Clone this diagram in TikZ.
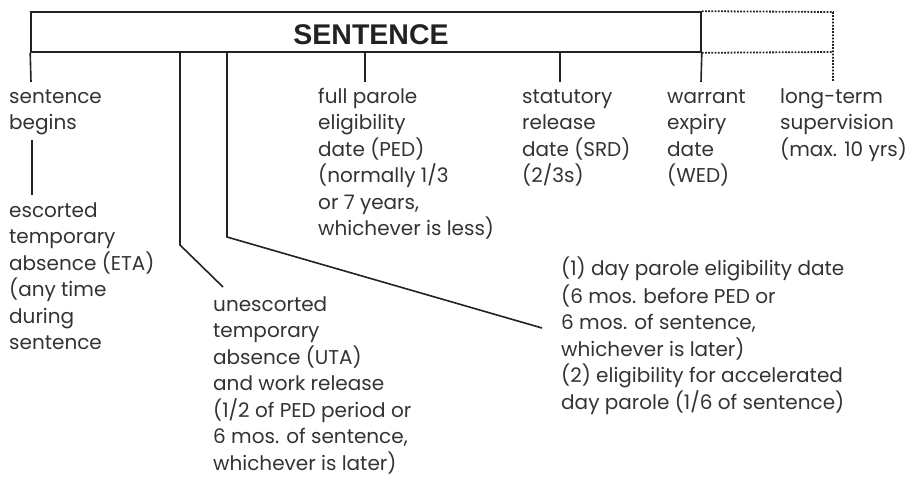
\documentclass[tikz,border=0pt]{standalone}
\usepackage{fontspec}
\setmainfont{Poppins}
\newfontfamily\headfont{Liberation Sans}
\definecolor{txt}{HTML}{333333}
\definecolor{ln}{HTML}{222222}
\tikzset{
  lbl/.style={anchor=north west, inner sep=0pt, align=left, text=txt,
    font=\fontsize{20}{26.5}\selectfont},
  conn/.style={draw=ln, line width=1.6pt},
  dotln/.style={draw=ln, line width=1.8pt, dash pattern=on 1.8pt off 1.4pt},
}
\begin{document}
\begin{tikzpicture}[x=1pt,y=-1pt]
\useasboundingbox (0,0) rectangle (909,476);
% main box
\node[conn, rectangle, minimum width=670pt, minimum height=40pt, inner sep=0pt] (box) at (366,32) {};
\node[anchor=base, inner sep=0pt, text=ln, font=\headfont\bfseries\fontsize{28.5}{30}\selectfont] (title) at (371,45) {SENTENCE};
% coordinates
\coordinate (ext) at (833,12);
\coordinate (extb) at (833,52);
\coordinate (extend) at (833,82);
\coordinate (sbt) at (31,82);
\coordinate (fpt) at (365,82);
\coordinate (fpb) at (365,52);
\coordinate (srt) at (560,82);
\coordinate (srb) at (560,52);
\coordinate (wet) at (701,82);
\coordinate (utab) at (180,52);
\coordinate (utak) at (180,245);
\coordinate (utae) at (223,287);
\coordinate (dpb) at (227,52);
\coordinate (dpk) at (227,237);
\coordinate (dpe) at (542,328);
\coordinate (etat) at (32,140);
\coordinate (etab) at (32,195);
% labels (first baseline minus 18.55)
\node[lbl] (sb) at (9,84.45) {\strut sentence\\begins};
\node[lbl] (eta) at (9,198.45) {\strut escorted\\temporary\\absence (ETA)\\(any time\\during\\sentence};
\node[lbl] (fp) at (318,84.45) {\strut full parole\\eligibility\\date (PED)\\(normally 1/3\\or 7 years,\\whichever is less)};
\node[lbl] (sr) at (522,84.45) {\strut statutory\\release\\date (SRD)\\(2/3s)};
\node[lbl] (we) at (667,84.45) {\strut warrant\\expiry\\date\\(WED)};
\node[lbl] (lt) at (780,84.45) {\strut long-term\\supervision\\(max. 10 yrs)};
\node[lbl] (uta) at (213,292.45) {\strut unescorted\\temporary\\absence (UTA)\\and work release\\(1/2 of PED period or\\6 mos. of sentence,\\whichever is later)};
\node[lbl] (dp) at (561,256.95) {\strut (1) day parole eligibility date\\(6 mos. before PED or\\6 mos. of sentence,\\whichever is later)\\(2) eligibility for accelerated\\day parole (1/6 of sentence)};
% connectors
\draw[conn] (box.south west) -- (sbt);
\draw[conn] (fpb) -- (fpt);
\draw[conn] (srb) -- (srt);
\draw[conn] (box.south east) -- (wet);
\draw[conn] (utab) -- (utak) -- (utae);
\draw[conn] (dpb) -- (dpk) -- (dpe);
\draw[conn] (etat) -- (etab);
\draw[dotln] (box.north east) -- (ext) -- (extend);
\draw[dotln] (box.south east) -- (extb);
\end{tikzpicture}
\end{document}
